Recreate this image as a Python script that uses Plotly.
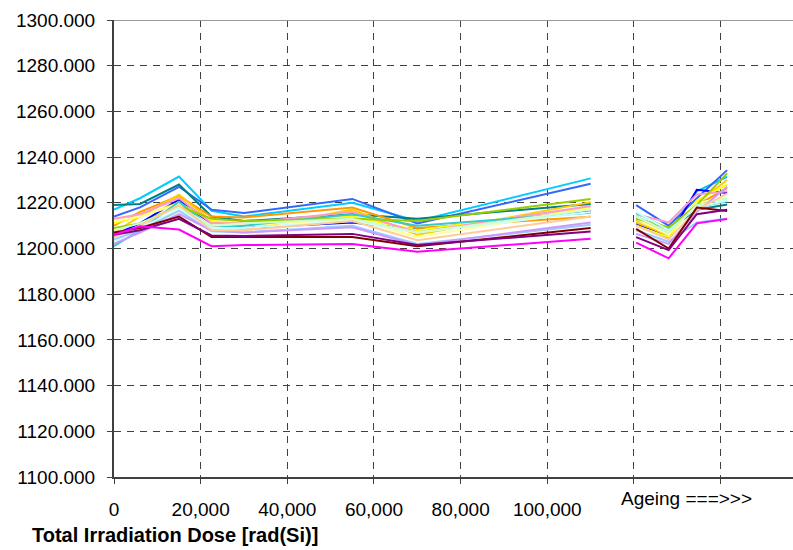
import plotly.graph_objects as go

# Dose steps (rad(Si)) and the ageing steps that follow them
dose = [0, 6000, 15000, 22500, 30000, 55000, 70000, 110000]
ageing = [120500, 128000, 134500, 141500]

colors = [
    "#00CCFF", "#3366FF", "#008080", "#0000FF", "#FF9900", "#FFCC00",
    "#FFFF00", "#FFFF99", "#FF99CC", "#33CCCC", "#99CC00", "#CCFFFF",
    "#CCFFCC", "#99CCFF", "#CC99FF", "#FFCC99", "#800000", "#800080",
    "#FF00FF",
]

dose_vals = [
    [1217.0, 1222.0, 1231.5, 1216.5, 1214.0, 1220.0, 1212.0, 1230.7],
    [1214.0, 1218.0, 1227.0, 1217.0, 1215.5, 1221.7, 1211.0, 1228.3],
    [1219.0, 1219.5, 1228.0, 1214.0, 1212.0, 1215.0, 1213.0, 1219.5],
    [1206.0, 1211.0, 1221.5, 1210.0, 1209.0, 1211.4, 1208.3, 1216.4],
    [1210.0, 1216.0, 1223.0, 1214.0, 1213.6, 1217.9, 1209.0, 1213.9],
    [1207.0, 1214.0, 1223.5, 1212.0, 1208.0, 1217.0, 1206.0, 1220.3],
    [1211.0, 1214.0, 1220.0, 1212.0, 1211.0, 1214.0, 1208.0, 1218.0],
    [1212.0, 1214.0, 1219.5, 1210.0, 1210.0, 1213.0, 1205.0, 1217.5],
    [1213.0, 1215.0, 1222.0, 1211.0, 1211.0, 1216.0, 1207.0, 1218.6],
    [1201.0, 1208.0, 1220.5, 1209.0, 1210.0, 1215.0, 1210.0, 1215.7],
    [1209.0, 1211.0, 1218.6, 1213.0, 1212.0, 1213.0, 1212.0, 1221.7],
    [1203.0, 1209.0, 1217.0, 1209.0, 1209.0, 1212.0, 1207.0, 1216.0],
    [1208.0, 1211.0, 1218.0, 1210.0, 1211.0, 1213.0, 1207.0, 1217.0],
    [1204.0, 1208.0, 1216.5, 1207.5, 1207.0, 1210.0, 1202.0, 1210.4],
    [1202.0, 1207.0, 1215.0, 1208.0, 1207.0, 1209.3, 1201.4, 1211.4],
    [1205.0, 1210.0, 1219.0, 1208.0, 1208.0, 1212.0, 1203.6, 1214.0],
    [1207.0, 1209.0, 1214.0, 1205.0, 1205.0, 1205.0, 1201.0, 1209.0],
    [1206.0, 1208.0, 1213.0, 1205.7, 1205.5, 1206.4, 1201.5, 1207.4],
    [1206.0, 1209.7, 1208.3, 1201.0, 1201.5, 1202.0, 1198.6, 1204.3],
]

ageing_vals = [
    [1214.0, 1207.0, 1225.0, 1231.4],
    [1219.0, 1210.0, 1222.0, 1234.3],
    [1213.5, 1208.5, 1217.0, 1219.3],
    [1211.0, 1204.7, 1225.7, 1224.3],
    [1212.5, 1207.9, 1219.0, 1226.4],
    [1211.4, 1206.0, 1220.0, 1230.0],
    [1210.0, 1205.0, 1221.0, 1228.0],
    [1213.0, 1206.0, 1220.0, 1222.0],
    [1215.0, 1211.4, 1223.6, 1225.0],
    [1215.7, 1208.5, 1218.0, 1220.7],
    [1213.0, 1209.3, 1219.0, 1232.9],
    [1216.0, 1208.0, 1218.0, 1221.0],
    [1214.0, 1207.0, 1219.0, 1222.0],
    [1208.0, 1203.0, 1211.4, 1213.1],
    [1206.4, 1202.0, 1216.0, 1227.0],
    [1210.0, 1204.0, 1217.0, 1224.0],
    [1208.6, 1200.0, 1217.9, 1216.4],
    [1205.0, 1199.3, 1215.0, 1217.0],
    [1202.6, 1195.7, 1211.0, 1212.9],
]

x_ticks = [0, 20000, 40000, 60000, 80000, 100000, 120000, 140000]
x_ticktext = ["0", "20,000", "40,000", "60,000", "80,000", "100,000", "", ""]

FONT = "Arial, Liberation Sans, sans-serif"

fig = go.Figure()
for col, dv, av in zip(colors, dose_vals, ageing_vals):
    # a None between the dose run and the ageing run leaves the gap open
    fig.add_trace(go.Scatter(
        x=dose + [None] + ageing,
        y=dv + [None] + av,
        mode="lines",
        line=dict(color=col, width=2),
        connectgaps=False,
        showlegend=False,
        hoverinfo="skip",
    ))

fig.update_layout(
    width=793, height=550,
    margin=dict(l=114, r=0, t=20, b=73),
    paper_bgcolor="white", plot_bgcolor="white",
    font=dict(family=FONT, size=19, color="#000000"),
    xaxis=dict(
        range=[0, 156700],
        tickvals=x_ticks, ticktext=x_ticktext,
        showgrid=True, gridcolor="#404040", gridwidth=1, griddash="7px,6px",
        zeroline=False,
        showline=True, linecolor="#404040", linewidth=2,
        ticks="outside", ticklen=5, tickcolor="#404040", tickwidth=1,
        ticklabelstandoff=9,
    ),
    yaxis=dict(
        range=[1100, 1300], dtick=20, tick0=1100, tickformat=".3f",
        showgrid=True, gridcolor="#404040", gridwidth=1, griddash="7px,6px",
        zeroline=False,
        showline=True, linecolor="#404040", linewidth=2,
        ticks="outside", ticklen=5, tickcolor="#404040", tickwidth=1,
        ticklabelstandoff=8,
    ),
)

# light top border of the plot area
fig.add_shape(type="line", xref="paper", yref="y", x0=0, x1=1, y0=1300, y1=1300,
              line=dict(color="#999999", width=2))

fig.add_annotation(text="Ageing ===>>>", xref="paper", yref="paper",
                   x=(686 - 114) / 679, y=-(498 - 477) / 457,
                   xanchor="center", yanchor="middle", showarrow=False,
                   font=dict(family=FONT, size=19, color="#000000"))
fig.add_annotation(text="<b>Total Irradiation Dose [rad(Si)]</b>", xref="paper", yref="paper",
                   x=(30 - 114) / 679, y=-(535 - 477) / 457,
                   xanchor="left", yanchor="middle", showarrow=False,
                   font=dict(family=FONT, size=20, color="#000000"))

fig.write_html("out.html")
